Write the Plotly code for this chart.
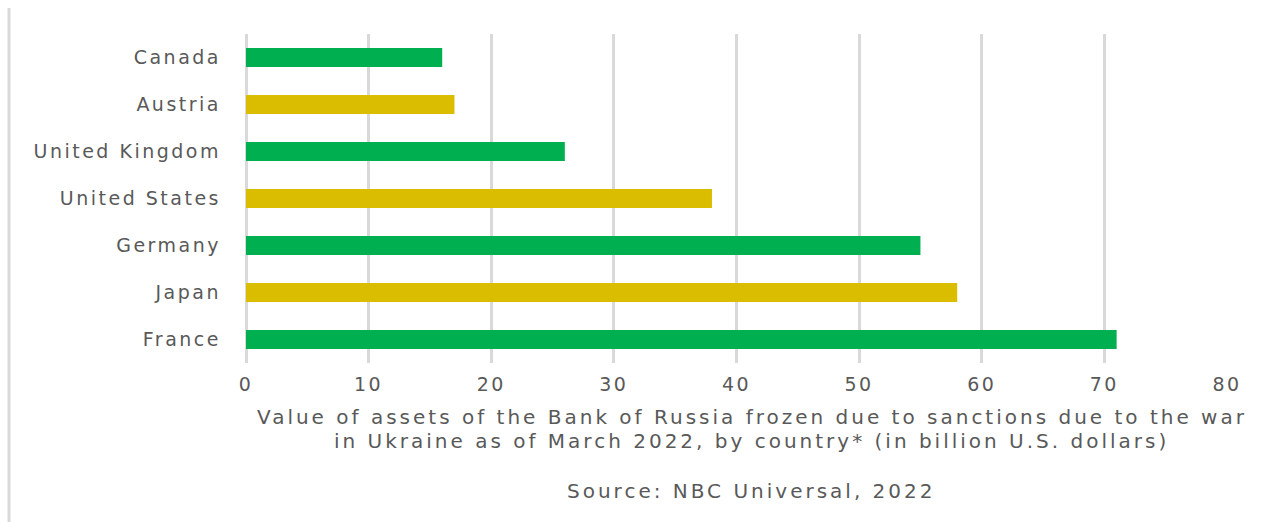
import plotly.graph_objects as go

countries = ["Canada", "Austria", "United Kingdom", "United States", "Germany", "Japan", "France"]
values = [16, 17, 26, 38, 55, 58, 71]
bar_colors = ["#00B050", "#DBBD00", "#00B050", "#DBBD00", "#00B050", "#DBBD00", "#00B050"]
x_ticks = [0, 10, 20, 30, 40, 50, 60, 70, 80]

title_lines = [
    "Value of assets of the Bank of Russia frozen due to sanctions due to the war",
    "in Ukraine as of March 2022, by country* (in billion U.S. dollars)",
]
source_text = "Source: NBC Universal, 2022"

W, H = 1271, 522
L, R, T, B = 246, 44, 34, 159
plot_w = W - L - R

text_color = "#595959"
grid_color = "#D9D9D9"
font_family = "DejaVu Sans, Open Sans, sans-serif"


def wide(s, spacing):
    """Wrap a label in a span with extra letter spacing."""
    return f'<span style="letter-spacing:{spacing}px">{s}</span>'


fig = go.Figure(
    go.Bar(
        x=values,
        y=countries,
        orientation="h",
        marker=dict(color=bar_colors, line=dict(width=0)),
        width=0.4,
        hoverinfo="x+y",
    )
)

fig.update_layout(
    width=W,
    height=H,
    margin=dict(l=L, r=R, t=T, b=B),
    paper_bgcolor="white",
    plot_bgcolor="white",
    showlegend=False,
    font=dict(family=font_family, color=text_color, size=19),
    xaxis=dict(
        range=[0, 80],
        tickvals=x_ticks,
        ticktext=[wide(str(v), 2.5) for v in x_ticks],
        showgrid=True,
        gridcolor=grid_color,
        gridwidth=3,
        zeroline=True,
        zerolinecolor=grid_color,
        zerolinewidth=3,
        showline=False,
        ticks="",
        ticklabelstandoff=8,
        tickfont=dict(size=19, color=text_color),
    ),
    yaxis=dict(
        range=[6.5, -0.5],
        tickvals=countries,
        ticktext=[wide(c, 2.5) for c in countries],
        showgrid=False,
        zeroline=False,
        showline=False,
        ticks="",
        ticklabelstandoff=24,
        tickfont=dict(size=19, color=text_color),
    ),
    shapes=[
        dict(
            type="line",
            xref="paper",
            yref="paper",
            x0=(9 - L) / plot_w,
            x1=(9 - L) / plot_w,
            y0=(H - B - 8) / (H - T - B),
            y1=-(B) / (H - T - B),
            line=dict(color=grid_color, width=3),
            layer="below",
        )
    ],
)

text_rows = [(title_lines[0], -54), (title_lines[1], -78), (source_text, -128)]
for txt, shift in text_rows:
    fig.add_annotation(
        text=wide(txt, 3),
        xref="paper",
        yref="paper",
        x=0.5,
        y=0,
        xshift=15,
        yshift=shift,
        xanchor="center",
        yanchor="middle",
        showarrow=False,
        font=dict(size=20, color=text_color, family=font_family),
    )

fig.write_html("out.html")
